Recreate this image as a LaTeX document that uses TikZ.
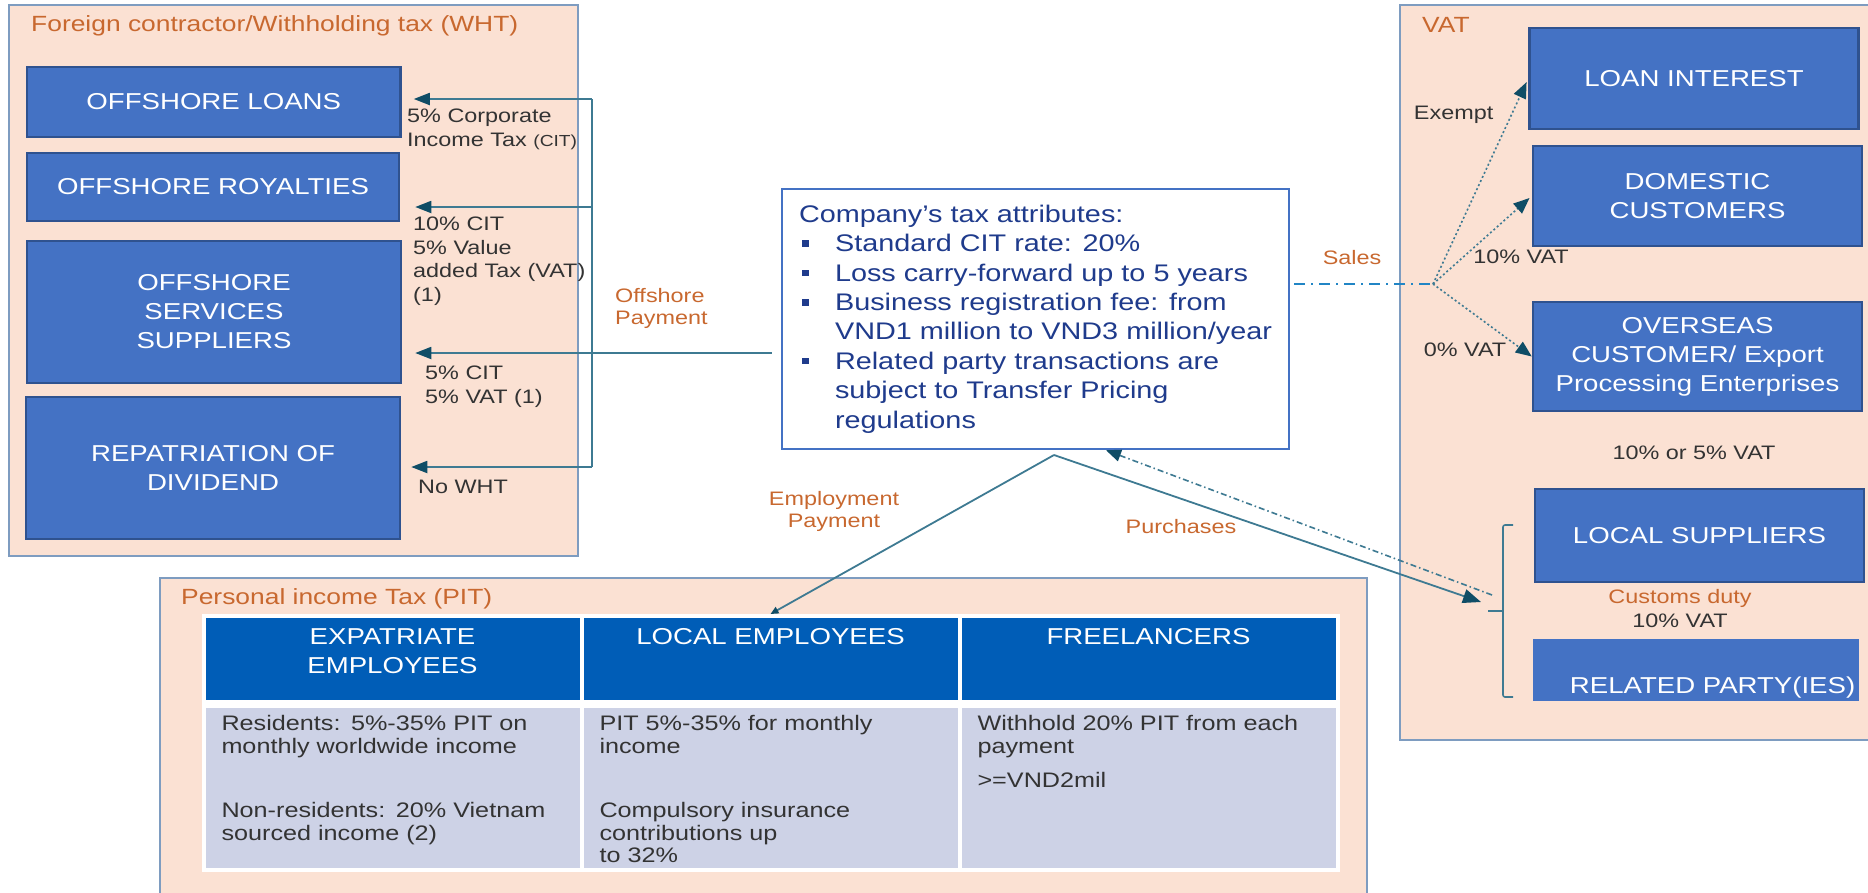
\documentclass[tikz,border=0pt]{standalone}
\usepackage{fontspec}
\setmainfont{Liberation Sans}[FakeStretch=1.2]
\usepackage{tikz}
\usetikzlibrary{arrows.meta}
\definecolor{peach}{HTML}{FBE1D3}
\definecolor{panelline}{HTML}{7E9CC0}
\definecolor{boxblue}{HTML}{4472C4}
\definecolor{boxline}{HTML}{2F528F}
\definecolor{taxorange}{HTML}{C8682F}
\definecolor{labelgray}{HTML}{333333}
\definecolor{wireteal}{HTML}{3E7A92}
\definecolor{tipteal}{HTML}{0F4D66}
\definecolor{attrblue}{HTML}{1F3B8C}
\definecolor{headblue}{HTML}{005DB7}
\definecolor{bodylav}{HTML}{CDD2E6}
\definecolor{salesblue}{HTML}{2185C5}
\newcommand{\sqbul}{\hspace*{3pt}\raisebox{5pt}{\rule{6.5pt}{6.5pt}}\hspace*{26.5pt}}
\tikzstyle{panel}=[rectangle, fill=peach, draw=panelline, line width=1.5pt, inner sep=0]
\tikzstyle{paneltitle}=[text=taxorange, font=\fontsize{22}{26}\selectfont, inner sep=0, anchor=west]
\tikzstyle{bluebox}=[rectangle, fill=boxblue, draw=boxline, line width=2.5pt, text=white, align=center, inner sep=0, font=\fontsize{23}{29}\selectfont]
\tikzstyle{relbox}=[rectangle, fill=boxblue, text=white, align=right, anchor=north west, text width=318pt, inner xsep=4pt, inner ysep=0, text height=54pt, text depth=8pt, font=\fontsize{23}{29}\selectfont]
\tikzstyle{rate}=[text=labelgray, align=left, inner sep=0, font=\fontsize{19.5}{23.5}\selectfont]
\tikzstyle{flow}=[text=taxorange, align=center, inner sep=0, font=\fontsize{19.5}{22}\selectfont]
\tikzstyle{attrbox}=[rectangle, fill=white, draw=boxblue, line width=2.5pt, text=attrblue, align=left, inner sep=0, font=\fontsize{24}{29.4}\selectfont]
\tikzstyle{headcell}=[rectangle, anchor=north west, fill=headblue, draw=white, line width=4pt, text=white, align=center, text width=362pt, inner xsep=8pt, inner ysep=0, text height=28pt, text depth=58pt, font=\fontsize{23}{29}\selectfont]
\tikzstyle{bodycell}=[rectangle, anchor=north west, fill=bodylav, draw=white, line width=4pt, text=labelgray, align=left, text width=342pt, inner xsep=18pt, inner ysep=0, text height=24.5pt, text depth=139.5pt, font=\fontsize{21}{22.5}\selectfont]
\tikzstyle{wire}=[draw=wireteal, line width=1.8pt]
\tikzstyle{wirearrow}=[wire, -{Triangle[length=16pt,width=12pt,color=tipteal]}]
\tikzstyle{salesline}=[draw=salesblue, line width=2.2pt, dash pattern=on 11pt off 6pt on 2pt off 6pt]
\tikzstyle{salesarrow}=[draw=wireteal, line width=1.6pt, dash pattern=on 2pt off 2.5pt, -{Triangle[length=16pt,width=13pt,color=tipteal]}]
\tikzstyle{returnarrow}=[draw=wireteal, line width=1.6pt, dash pattern=on 6pt off 3pt on 1.5pt off 3pt, -{Triangle[length=15pt,width=12pt,color=tipteal]}]
\tikzstyle{brace}=[draw=wireteal, line width=1.6pt, rounded corners=2pt]

\begin{document}
\begin{tikzpicture}[x=1pt, y=-1pt]
    \useasboundingbox (0,0) rectangle (1868,892);
    \path
    (293.5,280.5) node[panel, minimum width=569, minimum height=551] (whtpanel) {}
    (763.5,739) node[panel, minimum width=1207, minimum height=322] (pitpanel) {}
    (1637.5,372.5) node[panel, minimum width=475, minimum height=735] (vatpanel) {};
    \path
    (31,26) node[paneltitle] (whttitle) {Foreign contractor/Withholding tax (WHT)}
    (181,599) node[paneltitle] (pittitle) {Personal income Tax (PIT)}
    (1422,25) node[paneltitle] (vattitle) {VAT};

    \path
    (213.75,102) node[bluebox, minimum width=373.5, minimum height=70] (loans) {OFFSHORE LOANS}
    (213,187) node[bluebox, minimum width=372, minimum height=68] (royalties) {OFFSHORE ROYALTIES}
    (214,312) node[bluebox, minimum width=374, minimum height=142] (services) {OFFSHORE\\SERVICES\\SUPPLIERS}
    (213,468) node[bluebox, minimum width=374, minimum height=142] (dividend) {REPATRIATION OF\\DIVIDEND};
    \path
    (407,146) node[rate, anchor=base west] (citloans) {5\% Corporate\\Income Tax {\fontsize{16}{23.5}\selectfont(CIT)}}
    (413,301) node[rate, anchor=base west] (citroyal) {10\% CIT\\5\% Value\\added Tax (VAT)\\(1)}
    (425,403) node[rate, anchor=base west] (citserv) {5\% CIT\\5\% VAT (1)}
    (418,493) node[rate, anchor=base west] (nowht) {No WHT}
    (615,324) node[flow, align=left, anchor=base west] (offpay) {Offshore\\Payment};

    \path
    (1035.5,319) node[attrbox, minimum width=507, minimum height=260] (company) {Company’s tax attributes:\\
    \sqbul Standard CIT rate: 20\%\\
    \sqbul Loss carry-forward up to 5 years\\
    \sqbul Business registration fee: from\\
    \hspace*{36pt}VND1 million to VND3 million/year\\
    \sqbul Related party transactions are\\
    \hspace*{36pt}subject to Transfer Pricing\\
    \hspace*{36pt}regulations};

    \path
    (1694,78.5) node[bluebox, minimum width=329, minimum height=101] (loanint) {LOAN INTEREST}
    (1697.5,196) node[bluebox, minimum width=329, minimum height=100] (domestic) {DOMESTIC\\CUSTOMERS}
    (1697.5,356.5) node[bluebox, minimum width=329, minimum height=109] (overseas) {OVERSEAS\\CUSTOMER/ Export\\Processing Enterprises}
    (1699.5,535.5) node[bluebox, minimum width=329, minimum height=93] (localsup) {LOCAL SUPPLIERS}
    (1533,639) node[relbox] (related) {RELATED PARTY(IES)};
    \path
    (1352,258) node[flow] (sales) {Sales}
    (834,511) node[flow] (employ) {Employment\\Payment}
    (1181,527) node[flow] (purch) {Purchases}
    (1453.6,115) node[rate] (exempt) {Exempt}
    (1521,257) node[rate] (domvat) {10\% VAT}
    (1465,350) node[rate] (zerovat) {0\% VAT}
    (1694,453) node[rate] (supvat) {10\% or 5\% VAT}
    (1680,598) node[flow] (customs) {Customs duty}
    (1680,621) node[rate] (relvat) {10\% VAT};

    \path
    (201.5,614) node[headcell] (expathead) {EXPATRIATE\\EMPLOYEES}
    (579.5,614) node[headcell] (localhead) {LOCAL EMPLOYEES}
    (957.5,614) node[headcell] (freehead) {FREELANCERS}
    (201.5,704) node[bodycell] (expatbody) {Residents: 5\%-35\% PIT on\\monthly worldwide income\\[42pt]Non-residents: 20\% Vietnam\\sourced income (2)}
    (579.5,704) node[bodycell] (localbody) {PIT 5\%-35\% for monthly\\income\\[42pt]Compulsory insurance\\contributions up\\to 32\%}
    (957.5,704) node[bodycell] (freebody) {Withhold 20\% PIT from each\\payment\\[12pt]>=VND2mil};

    \coordinate (tloan) at (592,99);
    \coordinate (troyal) at (592,207);
    \coordinate (hub) at (592,353);
    \coordinate (tdiv) at (592,467);
    \coordinate (split) at (1433,284);
    \coordinate (apex) at (1054,455);
    \coordinate (buy) at (1481,602);
    \coordinate (rebate) at (1492,595);

    \draw[wire, shorten <=9pt] ([yshift=-34pt]company.west) -- (hub);
    \draw[wire] (tloan) -- (tdiv);
    \draw[wirearrow, shorten >=12pt] (tloan) -- (tloan -| loans.east);
    \draw[wirearrow, shorten >=15pt] (troyal) -- (troyal -| royalties.east);
    \draw[wirearrow, shorten >=13pt] (hub) -- (hub -| services.east);
    \draw[wirearrow, shorten >=10pt] (tdiv) -- (tdiv -| dividend.east);

    \draw[salesline, shorten <=4pt] ([yshift=35pt]company.east) -- (split);
    \draw[salesarrow, shorten >=4pt] (split) -- (loanint.west);
    \draw[salesarrow, shorten >=3pt] (split) -- (domestic.west);
    \draw[salesarrow] (split) -- (overseas.west);

    \draw[wire, -{Triangle[length=8pt,width=7pt,color=tipteal]}] (apex) -- (localhead.north);
    \draw[wire, -{Triangle[length=18pt,width=14pt,color=tipteal]}] (apex) -- (buy);
    \draw[returnarrow] (rebate) -- ([xshift=70.5pt]company.south);
    \draw[brace] (1513,525) -- (1503,525) -- (1503,697) -- (1513,697) (1503,611) -- (1488,611);
\end{tikzpicture}
\end{document}
